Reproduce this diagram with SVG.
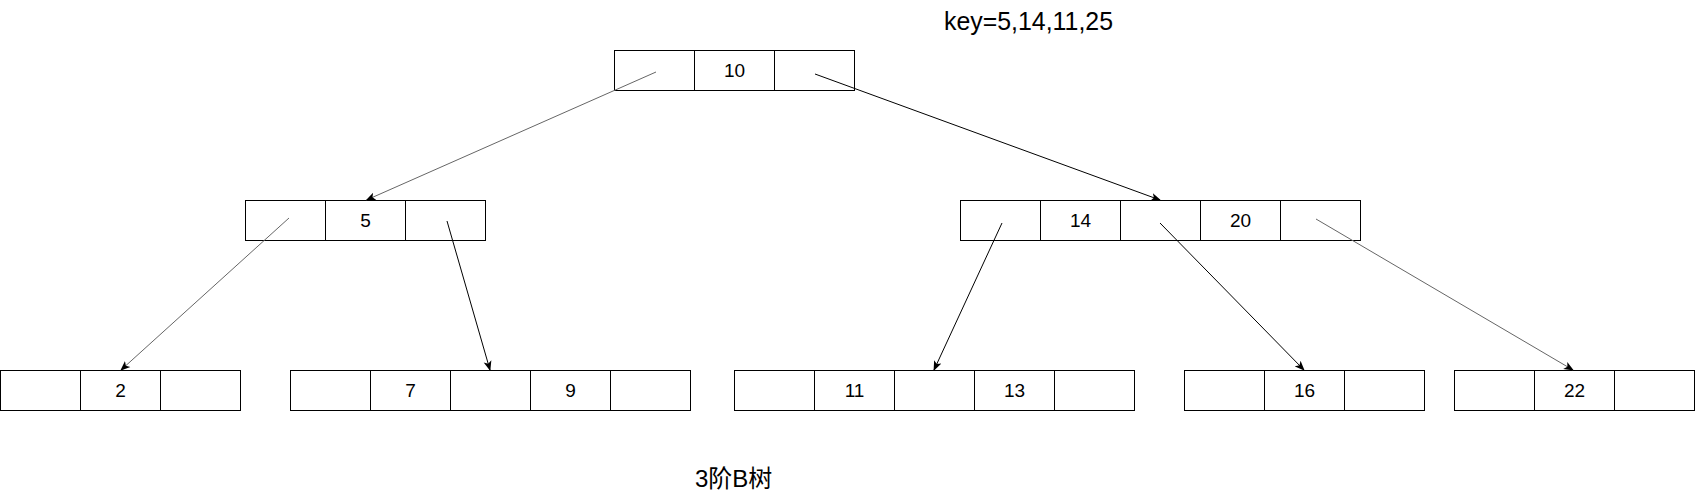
<svg xmlns="http://www.w3.org/2000/svg" width="1695" height="502" viewBox="0 0 1695 502">
<style>
.cell{fill:#fff;stroke:#000;stroke-width:1}
.lbl{font-family:"Liberation Sans",Arial,sans-serif;font-size:19px;fill:#000;text-anchor:middle}
.txt{font-family:"Liberation Sans",Arial,"Noto Sans CJK SC",sans-serif;fill:#000}
.edge{fill:none;stroke:#000;stroke-width:1}
.edge.g{stroke:#666}
</style>
<defs>
<marker id="arr" viewBox="0 0 10 10" refX="9" refY="5" markerWidth="10" markerHeight="10" markerUnits="userSpaceOnUse" orient="auto">
<path d="M0,1 L10,5 L0,9 L2.5,5 Z" fill="#000"/>
</marker>
</defs>
<rect width="1695" height="502" fill="#fff"/>
<text class="txt" x="944" y="30" font-size="25" textLength="169" lengthAdjust="spacingAndGlyphs">key=5,14,11,25</text>
<text class="txt" x="695" y="487" font-size="24">3阶B树</text>

<g id="root">
<rect class="cell" x="614.5" y="50.5" width="80" height="40"/>
<rect class="cell" x="694.5" y="50.5" width="80" height="40"/>
<rect class="cell" x="774.5" y="50.5" width="80" height="40"/>
<text class="lbl" x="734.5" y="77">10</text>
</g>

<g id="n5">
<rect class="cell" x="245.5" y="200.5" width="80" height="40"/>
<rect class="cell" x="325.5" y="200.5" width="80" height="40"/>
<rect class="cell" x="405.5" y="200.5" width="80" height="40"/>
<text class="lbl" x="365.5" y="227">5</text>
</g>

<g id="n14_20">
<rect class="cell" x="960.5" y="200.5" width="80" height="40"/>
<rect class="cell" x="1040.5" y="200.5" width="80" height="40"/>
<rect class="cell" x="1120.5" y="200.5" width="80" height="40"/>
<rect class="cell" x="1200.5" y="200.5" width="80" height="40"/>
<rect class="cell" x="1280.5" y="200.5" width="80" height="40"/>
<text class="lbl" x="1080.5" y="227">14</text>
<text class="lbl" x="1240.5" y="227">20</text>
</g>

<g id="n2">
<rect class="cell" x="0.5" y="370.5" width="80" height="40"/>
<rect class="cell" x="80.5" y="370.5" width="80" height="40"/>
<rect class="cell" x="160.5" y="370.5" width="80" height="40"/>
<text class="lbl" x="120.5" y="397">2</text>
</g>

<g id="n7_9">
<rect class="cell" x="290.5" y="370.5" width="80" height="40"/>
<rect class="cell" x="370.5" y="370.5" width="80" height="40"/>
<rect class="cell" x="450.5" y="370.5" width="80" height="40"/>
<rect class="cell" x="530.5" y="370.5" width="80" height="40"/>
<rect class="cell" x="610.5" y="370.5" width="80" height="40"/>
<text class="lbl" x="410.5" y="397">7</text>
<text class="lbl" x="570.5" y="397">9</text>
</g>

<g id="n11_13">
<rect class="cell" x="734.5" y="370.5" width="80" height="40"/>
<rect class="cell" x="814.5" y="370.5" width="80" height="40"/>
<rect class="cell" x="894.5" y="370.5" width="80" height="40"/>
<rect class="cell" x="974.5" y="370.5" width="80" height="40"/>
<rect class="cell" x="1054.5" y="370.5" width="80" height="40"/>
<text class="lbl" x="854.5" y="397">11</text>
<text class="lbl" x="1014.5" y="397">13</text>
</g>

<g id="n16">
<rect class="cell" x="1184.5" y="370.5" width="80" height="40"/>
<rect class="cell" x="1264.5" y="370.5" width="80" height="40"/>
<rect class="cell" x="1344.5" y="370.5" width="80" height="40"/>
<text class="lbl" x="1304.5" y="397">16</text>
</g>

<g id="n22">
<rect class="cell" x="1454.5" y="370.5" width="80" height="40"/>
<rect class="cell" x="1534.5" y="370.5" width="80" height="40"/>
<rect class="cell" x="1614.5" y="370.5" width="80" height="40"/>
<text class="lbl" x="1574.5" y="397">22</text>
</g>

<g id="connectors">
<line class="edge g" x1="656" y1="72" x2="366.5" y2="200" marker-end="url(#arr)"/>
<line class="edge" x1="815" y1="74" x2="1160" y2="200" marker-end="url(#arr)"/>
<line class="edge g" x1="289" y1="218" x2="121" y2="370" marker-end="url(#arr)"/>
<line class="edge" x1="447" y1="221" x2="490" y2="370" marker-end="url(#arr)"/>
<line class="edge" x1="1002" y1="223" x2="934" y2="370" marker-end="url(#arr)"/>
<line class="edge" x1="1160" y1="223" x2="1304" y2="370" marker-end="url(#arr)"/>
<line class="edge g" x1="1316" y1="219" x2="1573" y2="370" marker-end="url(#arr)"/>
</g>
</svg>
